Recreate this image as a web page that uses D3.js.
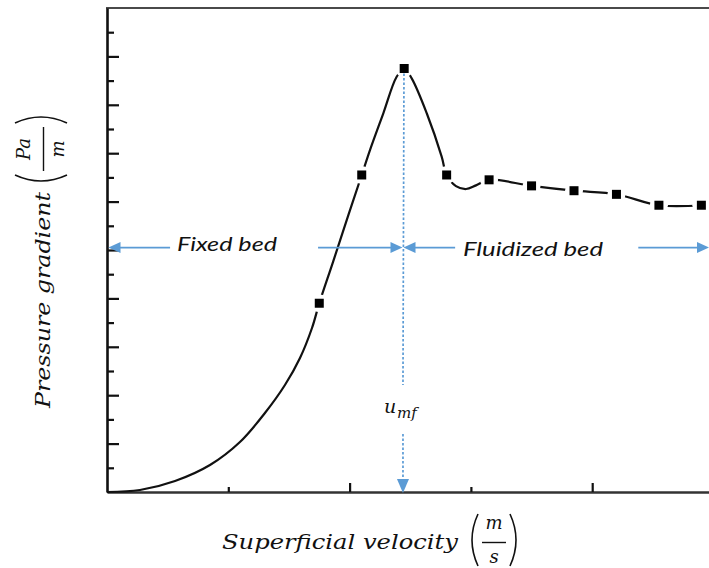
<!DOCTYPE html>
<html><head><meta charset="utf-8">
<script src="https://cdn.jsdelivr.net/npm/d3@7"></script>
<style>body{margin:0;background:#fff}svg{display:block}</style>
</head><body>
<svg id="c" width="709" height="568"></svg>
<script>
// ---- data (axis units: x 0..5, y 0..20) ----
const curveX = [0, 0.272, 0.561, 0.849, 1.096, 1.302, 1.467, 1.591, 1.690, 1.75, 1.863, 1.987, 2.10, 2.168, 2.278, 2.388, 2.45, 2.512, 2.636, 2.759, 2.80, 2.877, 2.96, 3.042, 3.15, 3.50, 3.85, 4.20, 4.55, 4.90];
const curveY = [0, 0.083, 0.455, 1.116, 2.066, 3.264, 4.421, 5.537, 6.777, 7.8, 9.50, 11.40, 13.1, 14.13, 15.65, 17.16, 17.5, 17.09, 15.65, 13.86, 13.1, 12.64, 12.52, 12.67, 12.9, 12.65, 12.45, 12.3, 11.85, 11.85];
const markerX = [1.75, 2.10, 2.45, 2.80, 3.15, 3.50, 3.85, 4.20, 4.55, 4.90];
const markerY = [7.8, 13.1, 17.5, 13.1, 12.9, 12.65, 12.45, 12.3, 11.85, 11.85];
const xMajorTicks = [2, 4];
const xMinorTicks = [1, 3];
const yMajorTicks = [2, 4, 6, 8, 10, 12, 14, 16, 18];
const yMinorTicks = [1, 3, 5, 7, 9, 11, 13, 15, 17, 19];
const uMf = 2.44;
const regionLabels = ["Fixed bed", "Fluidized bed"];
const xTitle = "Superficial velocity";
const yTitle = "Pressure gradient";
const xUnit = ["m", "s"];
const yUnit = ["Pa", "m"];
const arrowLevel = 10.1;

// ---- layout ----
const svg = d3.select("#c");
const x = d3.scaleLinear().domain([0, 5]).range([107, 713.5]);
const y = d3.scaleLinear().domain([0, 20]).range([492, 8]);
const blue = "#5b9bd5";

// frame top
svg.append("line").attr("x1", 106).attr("x2", 709).attr("y1", y(20)).attr("y2", y(20))
  .attr("stroke", "#4a4a4a").attr("stroke-width", 2.2);

// axes
function styleAxis(g, hideDomain, w) {
  g.selectAll("text").remove();
  g.select(".domain").attr("stroke", hideDomain ? "none" : "#111").attr("stroke-width", w);
  g.selectAll(".tick line").attr("stroke", "#111").attr("stroke-width", 2.2);
}
const yAxisMaj = svg.append("g").attr("transform", `translate(${x(0)},0)`)
  .call(d3.axisLeft(y).tickValues(yMajorTicks).tickSizeInner(-12).tickSizeOuter(0).tickFormat(""));
styleAxis(yAxisMaj, false, 2.6);
const yAxisMin = svg.append("g").attr("transform", `translate(${x(0)},0)`)
  .call(d3.axisLeft(y).tickValues(yMinorTicks).tickSizeInner(-7).tickSizeOuter(0).tickFormat(""));
styleAxis(yAxisMin, true, 0);
const xAxisMaj = svg.append("g").attr("transform", `translate(0,${y(0)})`)
  .call(d3.axisBottom(x).tickValues(xMajorTicks).tickSizeInner(-9).tickSizeOuter(0).tickFormat(""));
styleAxis(xAxisMaj, false, 2.6);
xAxisMaj.select(".domain").attr("stroke", "#333");
const xAxisMin = svg.append("g").attr("transform", `translate(0,${y(0)})`)
  .call(d3.axisBottom(x).tickValues(xMinorTicks).tickSizeInner(-5).tickSizeOuter(0).tickFormat(""));
styleAxis(xAxisMin, true, 0);

// curve
const pts = curveX.map((v, i) => [v, curveY[i]]);
const line = d3.line().x(d => x(d[0])).y(d => y(d[1])).curve(d3.curveCatmullRom.alpha(0.5));
svg.append("path").attr("d", line(pts)).attr("fill", "none").attr("stroke", "#111").attr("stroke-width", 2.2);

// markers with white halo
const mk = markerX.map((v, i) => [v, markerY[i]]);
svg.append("g").selectAll("circle").data(mk).join("circle")
  .attr("cx", d => x(d[0])).attr("cy", d => y(d[1])).attr("r", 9).attr("fill", "#fff");
svg.append("g").selectAll("rect").data(mk).join("rect")
  .attr("x", d => x(d[0]) - 4.5).attr("y", d => y(d[1]) - 4.5).attr("width", 9).attr("height", 9).attr("fill", "#000");

// u_mf dotted line
const ux = x(uMf);
svg.append("line").attr("x1", ux + 1).attr("x2", ux).attr("y1", y(17.5) + 5).attr("y2", 385)
  .attr("stroke", blue).attr("stroke-width", 1.7).attr("stroke-dasharray", "2.5,2");
svg.append("line").attr("x1", ux).attr("x2", ux).attr("y1", 434).attr("y2", 480)
  .attr("stroke", blue).attr("stroke-width", 1.7).attr("stroke-dasharray", "2.5,2");
svg.append("path").attr("d", `M${ux - 6},479 L${ux + 6},479 L${ux},493 Z`).attr("fill", blue);

// umf label
svg.append("text").attr("x", 384).attr("y", 413).attr("font-family", "DejaVu Serif").attr("font-style", "italic")
  .attr("font-size", 19).attr("fill", "#111").text("u");
svg.append("text").attr("x", 397).attr("y", 418).attr("font-family", "DejaVu Serif").attr("font-style", "italic")
  .attr("font-size", 15).attr("fill", "#111").text("mf");

// horizontal arrows
function arrow(x1, x2, yy) {
  const dir = x2 > x1 ? 1 : -1;
  const head = 12;
  svg.append("line").attr("x1", x1).attr("x2", x2 - dir * head + dir).attr("y1", yy).attr("y2", yy)
    .attr("stroke", blue).attr("stroke-width", 1.8);
  svg.append("path").attr("d", `M${x2},${yy} L${x2 - dir * head},${yy - 5.5} L${x2 - dir * head},${yy + 5.5} Z`)
    .attr("fill", blue);
}
const ay = y(arrowLevel);
arrow(x(0.52), x(0) + 1.5, ay);
arrow(x(1.74), ux - 0.5, ay);
arrow(x(2.87), ux + 0.5, ay);
arrow(x(4.38), 709, ay);

svg.append("text").attr("x", 177).attr("y", 251).attr("font-family", "Lato").attr("font-style", "italic")
  .attr("font-size", 19).attr("fill", "#111").attr("textLength", 100).attr("lengthAdjust", "spacingAndGlyphs")
  .text(regionLabels[0]);
svg.append("text").attr("x", 463).attr("y", 256).attr("font-family", "Lato").attr("font-style", "italic")
  .attr("font-size", 19).attr("fill", "#111").attr("textLength", 140).attr("lengthAdjust", "spacingAndGlyphs")
  .text(regionLabels[1]);

// axis titles with fraction units
function title(g, txt, len, unit, fStart, fWidth) {
  const fam = "DejaVu Serif";
  g.append("text").attr("x", 0).attr("y", 0).attr("font-family", fam).attr("font-style", "italic")
    .attr("font-size", 19.5).attr("fill", "#111").attr("textLength", len).attr("lengthAdjust", "spacingAndGlyphs").text(txt);
  const c = fStart + fWidth / 2;
  g.append("path").attr("d", `M${fStart + 8},-35 Q${fStart - 4},-9 ${fStart + 8},17`).attr("fill", "none").attr("stroke", "#111").attr("stroke-width", 1.6);
  g.append("path").attr("d", `M${fStart + fWidth - 8},-35 Q${fStart + fWidth + 4},-9 ${fStart + fWidth - 8},17`).attr("fill", "none").attr("stroke", "#111").attr("stroke-width", 1.6);
  g.append("text").attr("x", c).attr("y", -20).attr("text-anchor", "middle").attr("font-family", fam).attr("font-style", "italic")
    .attr("font-size", 18).attr("fill", "#111").text(unit[0]);
  g.append("line").attr("x1", fStart + 12).attr("x2", fStart + fWidth - 12).attr("y1", -6.5).attr("y2", -6.5).attr("stroke", "#111").attr("stroke-width", 1.4);
  g.append("text").attr("x", c).attr("y", 14).attr("text-anchor", "middle").attr("font-family", fam).attr("font-style", "italic")
    .attr("font-size", 18).attr("fill", "#111").text(unit[1]);
}
title(svg.append("g").attr("transform", "translate(222,549)"), xTitle, 236, xUnit, 248, 48);
title(svg.append("g").attr("transform", "translate(50,408) rotate(-90)"), yTitle, 216, yUnit, 225, 68);
</script>
</body></html>
